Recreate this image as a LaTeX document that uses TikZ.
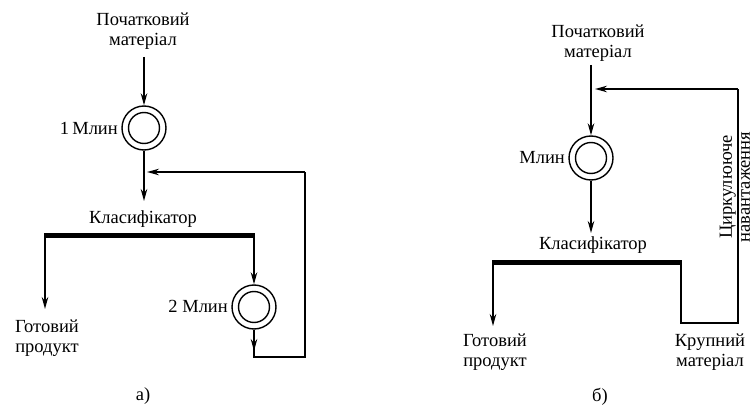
\documentclass[tikz,border=0pt]{standalone}
\usepackage{fontspec}
\setmainfont{Liberation Serif}
\usetikzlibrary{arrows.meta}
\begin{document}
\begin{tikzpicture}[x=1pt,y=-1pt,
  txt/.style={font=\fontsize{18.5}{19.5}\selectfont, align=center, inner sep=0pt},
  ln/.style={line width=1.6pt},
  arr/.style={line width=1.6pt, -{Stealth[length=12pt,width=6.5pt]}},
  bar/.style={line width=5pt},
  mill/.style={circle, draw, line width=1.4pt, minimum size=44pt, inner sep=0pt,
    path picture={\draw[line width=1.4pt] (path picture bounding box.center) circle (15.5pt);}}
]
\useasboundingbox (0,0) rectangle (755,409);
% ---------- a) ----------
\node[txt] (inA) at (143,31) {Початковий\\матеріал};
\coordinate (inAs) at (144,57);
\node[mill] (millA1) at (144,128) {};
\node[txt, anchor=east] (lblA1) at (118,128) {1\,Млин};
\coordinate (clsAtip) at (144,201);
\node[txt] (clsA) at (143,219) {Класифікатор};
\coordinate (barAL) at (45,235);
\coordinate (barAR) at (254,235);
\coordinate (outAtip) at (45,309);
\node[txt] (outA) at (47,338) {Готовий\\продукт};
\node[mill] (millA2) at (254,307) {};
\node[txt, anchor=east] (lblA2) at (228,306) {2 Млин};
\coordinate (cAmid) at (254,351);
\coordinate (cAbl) at (254,357);
\coordinate (cAbr) at (305,357);
\coordinate (cAtr) at (305,172);
\coordinate (cAjoin) at (147,172);
\node[txt] (capA) at (143,396) {а)};

\draw[arr] (inAs) -- (millA1.north);
\draw[arr] (millA1.south) -- (clsAtip);
\draw[bar] ([xshift=-0.8pt]barAL) -- ([xshift=0.8pt]barAR);
\draw[arr] (barAL) -- (outAtip);
\draw[arr] (barAR) -- (millA2.north);
\draw[ln] (millA2.south) -- (cAbl) -- (cAbr) -- (cAtr);
\draw[arr] (millA2.south) -- (cAmid);
\draw[arr] (cAtr) -- (cAjoin);

% ---------- б) ----------
\node[txt] (inB) at (598,43) {Початковий\\матеріал};
\coordinate (inBs) at (591,65);
\node[mill] (millB) at (591,158) {};
\node[txt, anchor=east] (lblB) at (565,158) {Млин};
\coordinate (clsBtip) at (591,233);
\node[txt] (clsB) at (593,245) {Класифікатор};
\coordinate (barBL) at (493,262);
\coordinate (barBR) at (681,262);
\coordinate (outBtip) at (493,326);
\node[txt] (outB) at (495,352) {Готовий\\продукт};
\coordinate (cBbl) at (681,323);
\coordinate (cBbr) at (738,323);
\coordinate (cBtr) at (738,89);
\coordinate (cBjoin) at (595,89);
\node[txt] (coarse) at (710,352) {Крупний\\матеріал};
\node[txt, rotate=90, font=\fontsize{18.5}{18}\selectfont] (circ) at (735,187) {Циркулююче\\навантаження};
\node[txt] (capB) at (600,397) {б)};

\draw[arr] (inBs) -- (millB.north);
\draw[arr] (millB.south) -- (clsBtip);
\draw[bar] ([xshift=-0.8pt]barBL) -- ([xshift=0.8pt]barBR);
\draw[arr] (barBL) -- (outBtip);
\draw[ln] (barBR) -- (cBbl) -- (cBbr) -- (cBtr);
\draw[arr] (cBtr) -- (cBjoin);
\end{tikzpicture}
\end{document}
